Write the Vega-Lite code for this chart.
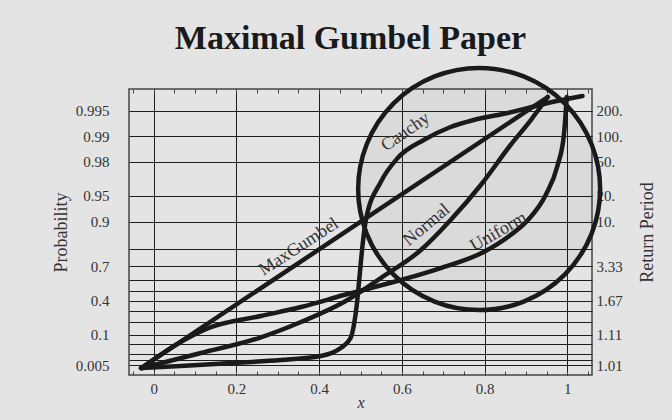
{
  "$schema": "https://vega.github.io/schema/vega-lite/v6.json",
  "width": 463,
  "height": 286,
  "autosize": "none",
  "padding": {"left": 129, "top": 89, "right": 80, "bottom": 45},
  "background": "#e4e4e4",
  "title": {"text": "Maximal Gumbel Paper", "fontSize": 34, "fontWeight": "bold", "font": "Liberation Serif", "color": "#1a1a1a", "anchor": "middle", "offset": 3, "dx": -10},
  "config": {
    "font": "Liberation Serif",
    "view": {"stroke": "#444", "strokeWidth": 1.5, "fill": "#e4e4e4"}
  },
  "datasets": {
    "curves": [
      {"series": "MaxGumbel", "x": -0.031, "y": -1.75},
      {"series": "MaxGumbel", "x": 0.953, "y": 5.671},
      {"series": "Cauchy", "x": -0.031, "y": -1.75},
      {"series": "Cauchy", "x": 0.065, "y": -1.695},
      {"series": "Cauchy", "x": 0.186, "y": -1.613},
      {"series": "Cauchy", "x": 0.307, "y": -1.531},
      {"series": "Cauchy", "x": 0.404, "y": -1.421},
      {"series": "Cauchy", "x": 0.452, "y": -1.202},
      {"series": "Cauchy", "x": 0.476, "y": -0.928},
      {"series": "Cauchy", "x": 0.484, "y": -0.572},
      {"series": "Cauchy", "x": 0.491, "y": -0.025},
      {"series": "Cauchy", "x": 0.498, "y": 0.797},
      {"series": "Cauchy", "x": 0.505, "y": 1.618},
      {"series": "Cauchy", "x": 0.513, "y": 2.303},
      {"series": "Cauchy", "x": 0.549, "y": 3.343},
      {"series": "Cauchy", "x": 0.59, "y": 4.001},
      {"series": "Cauchy", "x": 0.653, "y": 4.494},
      {"series": "Cauchy", "x": 0.718, "y": 4.849},
      {"series": "Cauchy", "x": 0.774, "y": 5.041},
      {"series": "Cauchy", "x": 0.856, "y": 5.233},
      {"series": "Cauchy", "x": 0.953, "y": 5.507},
      {"series": "Cauchy", "x": 1.037, "y": 5.698},
      {"series": "Normal", "x": -0.029, "y": -1.75},
      {"series": "Normal", "x": 0.019, "y": -1.613},
      {"series": "Normal", "x": 0.114, "y": -1.339},
      {"series": "Normal", "x": 0.254, "y": -0.928},
      {"series": "Normal", "x": 0.356, "y": -0.49},
      {"series": "Normal", "x": 0.46, "y": 0.058},
      {"series": "Normal", "x": 0.549, "y": 0.715},
      {"series": "Normal", "x": 0.646, "y": 1.481},
      {"series": "Normal", "x": 0.718, "y": 2.303},
      {"series": "Normal", "x": 0.791, "y": 3.261},
      {"series": "Normal", "x": 0.863, "y": 4.357},
      {"series": "Normal", "x": 0.912, "y": 5.041},
      {"series": "Normal", "x": 0.953, "y": 5.671},
      {"series": "Uniform", "x": -0.029, "y": -1.75},
      {"series": "Uniform", "x": 0.053, "y": -1.12},
      {"series": "Uniform", "x": 0.133, "y": -0.654},
      {"series": "Uniform", "x": 0.259, "y": -0.326},
      {"series": "Uniform", "x": 0.356, "y": -0.079},
      {"series": "Uniform", "x": 0.46, "y": 0.249},
      {"series": "Uniform", "x": 0.597, "y": 0.66},
      {"series": "Uniform", "x": 0.694, "y": 0.989},
      {"series": "Uniform", "x": 0.798, "y": 1.427},
      {"series": "Uniform", "x": 0.863, "y": 1.892},
      {"series": "Uniform", "x": 0.905, "y": 2.303},
      {"series": "Uniform", "x": 0.948, "y": 2.988},
      {"series": "Uniform", "x": 0.977, "y": 3.809},
      {"series": "Uniform", "x": 0.992, "y": 4.63},
      {"series": "Uniform", "x": 0.999, "y": 5.671}
    ],
    "circle": [{"x": 0.787, "y": 3.152}],
    "labels": [
      {"name": "MaxGumbel", "x": 0.351, "y": 1.564},
      {"name": "Cauchy", "x": 0.609, "y": 4.713},
      {"name": "Normal", "x": 0.66, "y": 2.166},
      {"name": "Uniform", "x": 0.834, "y": 1.975}
    ]
  },
  "layer": [
    {
      "data": {"name": "circle"},
      "mark": {"type": "point", "shape": "circle", "size": 58564, "filled": true, "fill": "#000", "fillOpacity": 0.045, "stroke": "#1a1a1a", "strokeWidth": 4.5, "opacity": 1},
      "encoding": {
        "x": {"field": "x", "type": "quantitative", "scale": {"domain": [-0.06, 1.06], "nice": false, "zero": false},
          "axis": {"orient": "bottom", "values": [-0.05, 0, 0.05, 0.1, 0.15, 0.2, 0.25, 0.3, 0.35, 0.4, 0.45, 0.5, 0.55, 0.6, 0.65, 0.7, 0.75, 0.8, 0.85, 0.9, 0.95, 1, 1.05],
            "grid": true, "gridColor": "#1e1e1e", "gridWidth": 1,
            "gridOpacity": {"condition": {"test": "abs(datum.value*5 - round(datum.value*5)) < 0.001", "value": 1}, "value": 0},
            "ticks": true, "tickSize": -4, "tickColor": "#444", "tickWidth": 1, "domain": false,
            "labelExpr": "abs(datum.value*5 - round(datum.value*5)) < 0.001 ? format(datum.value, '.1~f') : ''",
            "labelFontSize": 15, "labelColor": "#333", "labelPadding": 10, "labelOverlap": false, "labelFlush": false,
            "title": "x", "titleFontStyle": "italic", "titleFontWeight": "normal", "titleFontSize": 16, "titleColor": "#333", "titlePadding": -2}},
        "y": {"field": "y", "type": "quantitative", "scale": {"domain": [-1.94, 5.89], "nice": false, "zero": false},
          "axis": {"orient": "left", "values": [-1.667, -1.527, -1.364, -1.097, -0.834, -0.476, -0.186, 0.087, 0.367, 0.672, 1.031, 1.5, 2.25, 2.97, 3.902, 4.6, 5.296],
            "grid": true, "gridColor": "#1e1e1e", "gridWidth": 1, "ticks": false, "domain": false,
            "labelExpr": "datum.value < -1.6 ? '0.005' : abs(datum.value + 0.834) < 0.01 ? '0.1' : abs(datum.value - 0.087) < 0.01 ? '0.4' : abs(datum.value - 1.031) < 0.01 ? '0.7' : abs(datum.value - 2.25) < 0.01 ? '0.9' : abs(datum.value - 2.97) < 0.01 ? '0.95' : abs(datum.value - 3.902) < 0.01 ? '0.98' : abs(datum.value - 4.6) < 0.01 ? '0.99' : abs(datum.value - 5.296) < 0.01 ? '0.995' : ''",
            "labelFontSize": 15, "labelColor": "#333", "labelPadding": 20, "labelOverlap": false, "labelFlush": false,
            "title": "Probability", "titleFontWeight": "normal", "titleFontSize": 18, "titleColor": "#333", "titlePadding": 5}}
      }
    },
    {
      "data": {"name": "curves"},
      "mark": {"type": "line", "color": "#1a1a1a", "strokeWidth": 4.5, "strokeCap": "round", "strokeJoin": "round", "interpolate": "monotone"},
      "encoding": {
        "x": {"field": "x", "type": "quantitative",
          "axis": {"orient": "top", "values": [-0.05, 0, 0.05, 0.1, 0.15, 0.2, 0.25, 0.3, 0.35, 0.4, 0.45, 0.5, 0.55, 0.6, 0.65, 0.7, 0.75, 0.8, 0.85, 0.9, 0.95, 1, 1.05],
            "grid": false, "labels": false, "ticks": true, "tickSize": -4, "tickColor": "#444", "domain": false, "title": null}},
        "y": {"field": "y", "type": "quantitative",
          "axis": {"orient": "right", "values": [-1.667, -0.834, 0.087, 1.031, 2.25, 2.97, 3.902, 4.6, 5.296],
            "grid": false, "ticks": false, "domain": false,
            "labelExpr": "datum.value < -1.6 ? '1.01' : abs(datum.value + 0.834) < 0.01 ? '1.11' : abs(datum.value - 0.087) < 0.01 ? '1.67' : abs(datum.value - 1.031) < 0.01 ? '3.33' : abs(datum.value - 2.25) < 0.01 ? '10.' : abs(datum.value - 2.97) < 0.01 ? '20.' : abs(datum.value - 3.902) < 0.01 ? '50.' : abs(datum.value - 4.6) < 0.01 ? '100.' : '200.'",
            "labelFontSize": 15, "labelColor": "#333", "labelPadding": 4, "labelOverlap": false, "labelFlush": false,
            "title": "Return  Period", "titleAngle": -90, "titleFontWeight": "normal", "titleFontSize": 18, "titleColor": "#333", "titlePadding": 34}},
        "detail": {"field": "series"}
      }
    },
    {
      "data": {"name": "labels"},
      "transform": [{"filter": "datum.name === 'MaxGumbel'"}],
      "mark": {"type": "text", "angle": -33, "fontSize": 18, "color": "#333", "align": "center", "baseline": "middle"},
      "encoding": {"x": {"field": "x", "type": "quantitative", "axis": null}, "y": {"field": "y", "type": "quantitative", "axis": null}, "text": {"field": "name"}}
    },
    {
      "data": {"name": "labels"},
      "transform": [{"filter": "datum.name === 'Cauchy'"}],
      "mark": {"type": "text", "angle": -35, "fontSize": 18, "color": "#333", "align": "center", "baseline": "middle"},
      "encoding": {"x": {"field": "x", "type": "quantitative", "axis": null}, "y": {"field": "y", "type": "quantitative", "axis": null}, "text": {"field": "name"}}
    },
    {
      "data": {"name": "labels"},
      "transform": [{"filter": "datum.name === 'Normal'"}],
      "mark": {"type": "text", "angle": -40, "fontSize": 18, "color": "#333", "align": "center", "baseline": "middle"},
      "encoding": {"x": {"field": "x", "type": "quantitative", "axis": null}, "y": {"field": "y", "type": "quantitative", "axis": null}, "text": {"field": "name"}}
    },
    {
      "data": {"name": "labels"},
      "transform": [{"filter": "datum.name === 'Uniform'"}],
      "mark": {"type": "text", "angle": -30, "fontSize": 18, "color": "#333", "align": "center", "baseline": "middle"},
      "encoding": {"x": {"field": "x", "type": "quantitative", "axis": null}, "y": {"field": "y", "type": "quantitative", "axis": null}, "text": {"field": "name"}}
    }
  ],
  "resolve": {"axis": {"x": "independent", "y": "independent"}}
}
